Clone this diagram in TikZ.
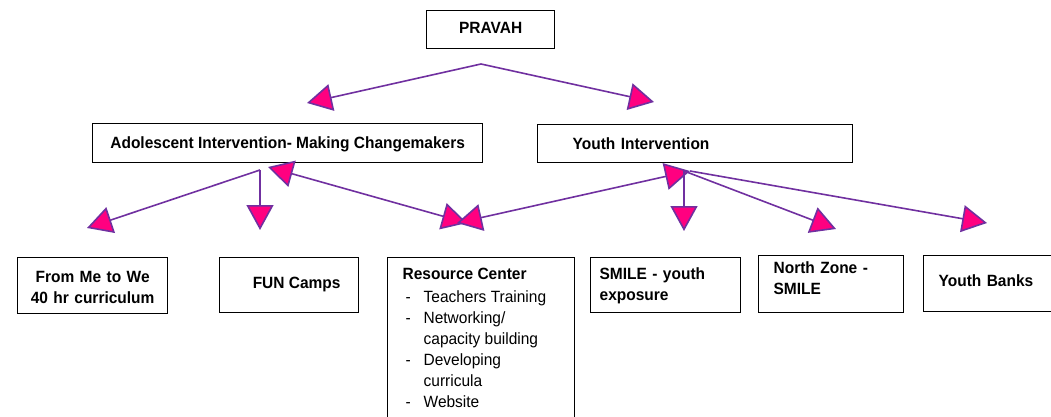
\documentclass[tikz,border=0pt]{standalone}
\usepackage{fontspec}
\setmainfont{Liberation Sans}[FakeStretch=0.95]
\usetikzlibrary{arrows.meta}
\definecolor{linkpurple}{RGB}{112,48,160}
\definecolor{headpink}{RGB}{255,0,128}
% list entries of the resource centre box
\newcommand\rcitem[1]{\mdseries\makebox[21pt][l]{\hspace{3pt}-}#1}
\newcommand\rcmore[1]{\mdseries\hspace{21pt}#1}
\begin{document}
\begin{tikzpicture}[x=1pt,y=-1pt,
  box/.style={draw=black, line width=1.3pt, anchor=north west, inner sep=0pt,
    font=\bfseries\fontsize{16.3}{21}\selectfont, text height=11pt},
  link/.style={draw=linkpurple, line width=1.6pt,
    >={Triangle[length=25pt,width=27pt,fill=headpink]}},
]
\useasboundingbox (0,0) rectangle (1051,417);

% top level
\node[box, minimum width=128pt, minimum height=38pt, text depth=3pt] (pravah) at (426,10) {PRAVAH};

% second level
\node[box, minimum width=390pt, minimum height=39pt, text depth=0pt] (adol) at (92,123)
  {Adolescent Intervention- Making Changemakers};
\node[box, minimum height=38pt, inner xsep=35pt, text width=245pt, align=left, text depth=0pt] (youth) at (537,124)
  {Youth Intervention};

% programme boxes
\node[box, minimum height=56pt, inner xsep=4pt, text width=142pt, align=center, text depth=18pt] (fmw) at (17,257)
  {From Me to We\\40 hr curriculum};
\node[box, minimum width=139pt, minimum height=55pt, text depth=5pt] (fun) at (219,257)
  {\hspace*{15pt}FUN Camps};
\node[box, minimum height=175pt, inner xsep=15pt, text depth=143pt] (rc) at (387,257)
  {\makebox[157pt][l]{\begin{tabular}[t]{@{}l@{}}
    Resource Center\\[2pt]
    \rcitem{Teachers Training}\\
    \rcitem{Networking/}\\
    \rcmore{capacity building}\\
    \rcitem{Developing}\\
    \rcmore{curricula}\\
    \rcitem{Website}
  \end{tabular}}};
\node[box, minimum height=55pt, inner xsep=9pt, text width=132pt, align=left, text depth=23pt] (smile) at (590,257)
  {SMILE - youth\\exposure};
\node[box, minimum height=57pt, inner xsep=15pt, text width=115pt, align=left, text depth=33pt] (north) at (758,255)
  {North Zone -\\SMILE};
\node[box, minimum height=56pt, inner xsep=15pt, text width=110pt, align=left, text depth=5pt] (banks) at (923,255)
  {Youth Banks};

% connector end points
\coordinate (pvfork) at (481,64);
\coordinate (pvleft) at (307,103);
\coordinate (pvright) at (654,102);
\coordinate (adfork) at (260,170);
\coordinate (adleft) at (87,228);
\coordinate (addown) at (260,230);
\coordinate (adres) at (268,167);
\coordinate (resA) at (467,223);
\coordinate (ytres) at (690,171);
\coordinate (resY) at (457,223);
\coordinate (ytfork) at (684,171);
\coordinate (ytdown) at (684,231);
\coordinate (ytnorth) at (836,229);
\coordinate (ytbanks) at (987,223);

% connectors
\draw[link,->] (pvfork) -- (pvleft);
\draw[link,->] (pvfork) -- (pvright);
\draw[link,->] (adfork) -- (adleft);
\draw[link,->] (adfork) -- (addown);
\draw[link,<->] (adres) -- (resA);
\draw[link,<->] (ytres) -- (resY);
\draw[link,->] (ytfork) -- (ytdown);
\draw[link,->] (ytfork) -- (ytnorth);
\draw[link,->] (ytres) -- (ytbanks);
\end{tikzpicture}
\end{document}
